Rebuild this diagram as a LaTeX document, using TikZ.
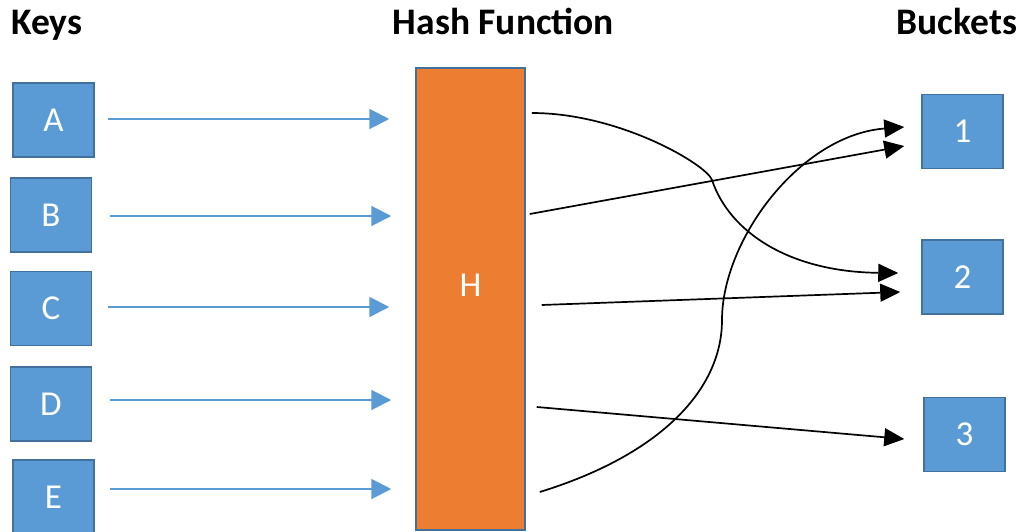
\documentclass[tikz,border=0pt]{standalone}
\usepackage{fontspec}
\setmainfont{Carlito}
\usetikzlibrary{arrows.meta,calc}
\definecolor{boxblue}{HTML}{5B9BD5}
\definecolor{boxedge}{HTML}{41719C}
\definecolor{hashorange}{HTML}{ED7D31}
\begin{document}
\begin{tikzpicture}[x=1pt,y=-1pt,
  keybox/.style={draw=boxedge, line width=1.5pt, fill=boxblue, text=white,
    minimum width=81pt, minimum height=74pt, inner sep=0pt,
    font=\fontsize{35}{37}\selectfont},
  hashbox/.style={draw=boxedge, line width=1.5pt, fill=hashorange,
    minimum width=109pt, minimum height=462pt, inner sep=0pt},
  title/.style={font=\bfseries\fontsize{37.5}{40}\selectfont, anchor=base, inner sep=0pt},
  bluearr/.style={draw=boxblue, line width=2pt, -{Triangle[length=20pt,width=20pt]}},
  blkarr/.style={draw=black, line width=1.7pt, -{Triangle[length=20pt,width=18pt]}}]
\useasboundingbox (0,0) rectangle (1022,532);
\fill[white] (0,0) rectangle (1022,532);

% titles
\node[title] (tkeys) at (47,35) {Keys};
\node[title] (thash) at (503.5,35) {Hash Function};
\node[title] (tbuck) at (957,35) {Buckets};

% keys
\node[keybox] (A) at (53.5,120) {A};
\node[keybox] (B) at (51,215) {B};
\node[keybox] (C) at (51,308.5) {C};
\node[keybox] (D) at (51,404) {D};
\node[keybox] (E) at (53.5,497) {E};

% hash
\node[hashbox] (hash) at (470.5,299) {};
\node[text=white, font=\fontsize{35}{37}\selectfont, inner sep=0pt] (hlabel) at (470.5,285) {H};

% buckets
\node[keybox] (b1) at (962.5,131.5) {1};
\node[keybox] (b2) at (962.5,277) {2};
\node[keybox] (b3) at (964.5,434.5) {3};

% blue arrows
\draw[bluearr] ($(A.east |- 0,119)+(13,0)$) -- ($(hash.west |- 0,119)+(-26,0)$);
\draw[bluearr] ($(B.east |- 0,216)+(18,0)$) -- ($(hash.west |- 0,216)+(-24,0)$);
\draw[bluearr] ($(C.east |- 0,307)+(16,0)$) -- ($(hash.west |- 0,307)+(-26,0)$);
\draw[bluearr] ($(D.east |- 0,400)+(18,0)$) -- ($(hash.west |- 0,400)+(-24,0)$);
\draw[bluearr] ($(E.east |- 0,489)+(15,0)$) -- ($(hash.west |- 0,489)+(-24,0)$);

% black arrows
\draw[blkarr] ($(hash.east |- 0,113)+(6,0)$)
  .. controls (620,113) and (707,165) .. (712,180)
  .. controls (729.5,232.5) and (790,272) .. ($(b2.west |- 0,273)+(-23,0)$);
\draw[blkarr] ($(hash.east |- 0,214)+(4,0)$) -- ($(b1.west |- 0,146)+(-17,0)$);
\draw[blkarr] ($(hash.east |- 0,305)+(16,0)$) -- ($(b2.west |- 0,292)+(-21,0)$);
\draw[blkarr] ($(hash.east |- 0,407)+(11,0)$) -- ($(b3.west |- 0,439)+(-19,0)$);
\draw[blkarr] ($(hash.east |- 0,492)+(14,0)$)
  .. controls (660,455) and (722,390) .. (722,320)
  .. controls (722,240) and (800,135) .. ($(b1.west |- 0,127)+(-17,0)$);
\end{tikzpicture}
\end{document}
